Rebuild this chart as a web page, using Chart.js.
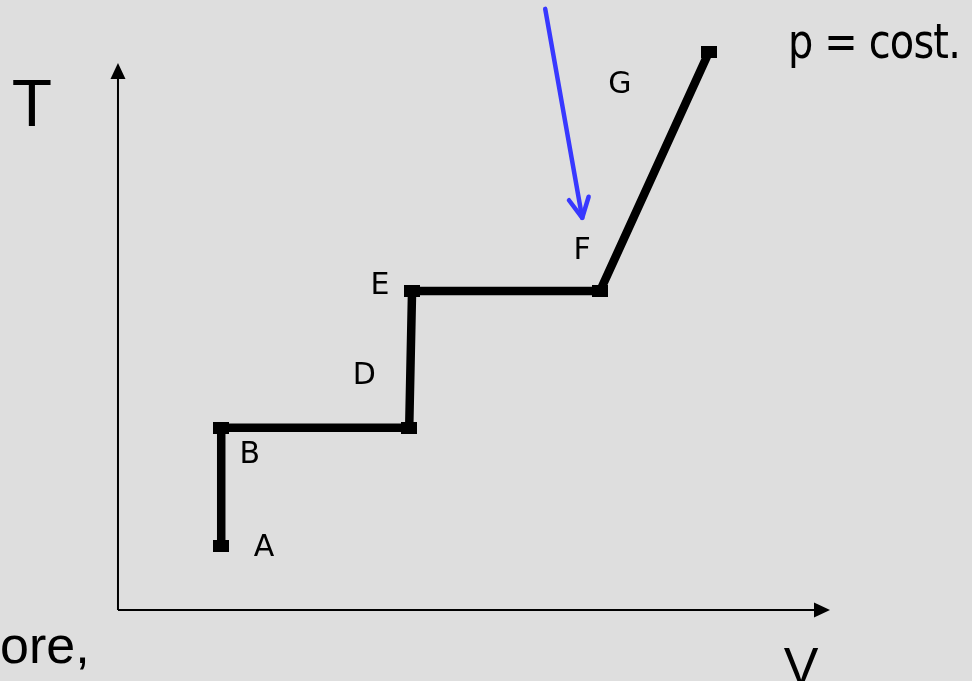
<!DOCTYPE html>
<html>
<head>
<meta charset="utf-8">
<script src="https://cdn.jsdelivr.net/npm/chart.js@4.4.1/dist/chart.umd.min.js"></script>
<style>
  html, body { margin: 0; padding: 0; background: #dedede; overflow: hidden; }
  canvas { display: block; }
</style>
</head>
<body>
<canvas id="myChart" width="972" height="681"></canvas>
<script>
// path A -> B -> (B') -> E -> F -> G, in V / T units
const vValues = [1.45, 1.45, 4.09, 4.13, 6.77, 8.30];
const tValues = [1.17, 3.33, 3.33, 5.83, 5.83, 10.20];

// blue arrow (start, end)
const arrowV = [6.00, 6.52];
const arrowT = [10.99, 7.17];

// letters next to the path
const pointNames = ['A', 'B', 'D', 'E', 'F', 'G'];
const nameV = [2.05, 1.85, 3.46, 3.68, 6.52, 7.05];
const nameT = [1.13, 2.83, 4.28, 5.92, 6.56, 9.60];

// axis length (both axes go from 0 to 10)
const axisEnd = 10;

const ctx = document.getElementById('myChart');

// little black square marker
const marker = document.createElement('canvas');
marker.width = 16;
marker.height = 12;
const mctx = marker.getContext('2d');
mctx.fillStyle = '#000';
mctx.fillRect(0, 0, 16, 12);

const pathData = vValues.map((v, i) => ({ x: v, y: tValues[i] }));
const arrowData = arrowV.map((v, i) => ({ x: v, y: arrowT[i] }));

const slidePlugin = {
    id: 'slide',
    beforeDraw(chart) {
        const c = chart.ctx;
        c.save();
        c.fillStyle = '#dedede';
        c.fillRect(0, 0, chart.width, chart.height);
        c.restore();
    },
    beforeDatasetsDraw(chart) {
        const c = chart.ctx;
        const xs = chart.scales.x;
        const ys = chart.scales.y;
        const x0 = xs.getPixelForValue(0);
        const y0 = ys.getPixelForValue(0);
        const xEnd = xs.getPixelForValue(axisEnd);
        const yEnd = ys.getPixelForValue(axisEnd);
        c.save();
        c.strokeStyle = '#000';
        c.fillStyle = '#000';
        c.lineWidth = 2;
        c.beginPath();
        c.moveTo(x0, y0);
        c.lineTo(xEnd - 10, y0);
        c.moveTo(x0, y0);
        c.lineTo(x0, yEnd + 10);
        c.stroke();
        // arrow heads
        c.beginPath();
        c.moveTo(xEnd, y0);
        c.lineTo(xEnd - 16, y0 - 7.5);
        c.lineTo(xEnd - 16, y0 + 7.5);
        c.closePath();
        c.fill();
        c.beginPath();
        c.moveTo(x0, yEnd);
        c.lineTo(x0 - 7.5, yEnd + 16);
        c.lineTo(x0 + 7.5, yEnd + 16);
        c.closePath();
        c.fill();
        c.restore();
    },
    afterDatasetsDraw(chart) {
        const c = chart.ctx;
        const xs = chart.scales.x;
        const ys = chart.scales.y;

        // head of the blue arrow
        const pts = chart.getDatasetMeta(1).data;
        const p1 = pts[0], p2 = pts[1];
        const ang = Math.atan2(p2.y - p1.y, p2.x - p1.x);
        const len = 22, spread = 27 * Math.PI / 180;
        c.save();
        c.strokeStyle = '#3838ff';
        c.lineWidth = 4.5;
        c.lineCap = 'round';
        c.lineJoin = 'round';
        c.beginPath();
        c.moveTo(p2.x - len * Math.cos(ang - spread), p2.y - len * Math.sin(ang - spread));
        c.lineTo(p2.x, p2.y);
        c.lineTo(p2.x - len * Math.cos(ang + spread), p2.y - len * Math.sin(ang + spread));
        c.stroke();
        c.restore();

        // point letters
        c.save();
        c.fillStyle = '#000';
        c.font = '30px "DejaVu Sans"';
        c.textAlign = 'center';
        c.textBaseline = 'middle';
        pointNames.forEach((n, i) => {
            c.fillText(n, xs.getPixelForValue(nameV[i]), ys.getPixelForValue(nameT[i]));
        });
        c.restore();

        // slide text
        c.save();
        c.fillStyle = '#000';
        c.textBaseline = 'alphabetic';
        c.font = '66px "Liberation Sans"';
        c.textAlign = 'center';
        c.fillText('T', 32, 126);
        c.font = '52px "Liberation Sans"';
        c.fillText('V', 801, 684);
        c.textAlign = 'left';
        c.fillText('ore,', 0, 663);

        c.font = '48px "DejaVu Sans"';
        c.letterSpacing = '-1px';
        const txt = 'p = cost.';
        const w = c.measureText(txt).width;
        c.translate(788, 58);
        c.scale(172 / w, 1);
        c.fillText(txt, 0, 0);
        c.restore();
    }
};

new Chart(ctx, {
type: 'scatter',
data: {
    datasets: [{
        label: 'path',
        data: pathData,
        showLine: true,
        borderColor: '#000',
        backgroundColor: '#000',
        borderWidth: 8.5,
        borderJoinStyle: 'miter',
        pointStyle: marker,
        pointRadius: 8,
        pointHoverRadius: 8,
        tension: 0,
        clip: false
    }, {
        label: 'arrow',
        data: arrowData,
        showLine: true,
        borderColor: '#3838ff',
        borderWidth: 4.5,
        borderCapStyle: 'round',
        pointRadius: 0,
        pointHoverRadius: 0,
        clip: false
    }]
},
options: {
    responsive: false,
    animation: false,
    events: [],
    layout: { padding: 0, autoPadding: false },
    plugins: {
        legend: { display: false },
        tooltip: { enabled: false },
        title: { display: false }
    },
    scales: {
        x: {
            type: 'linear',
            display: false,
            min: -1.657,
            max: 11.994
        },
        y: {
            type: 'linear',
            display: false,
            min: -1.298,
            max: 11.152
        }
    }
},
plugins: [slidePlugin]
})
</script>
</body>
</html>
